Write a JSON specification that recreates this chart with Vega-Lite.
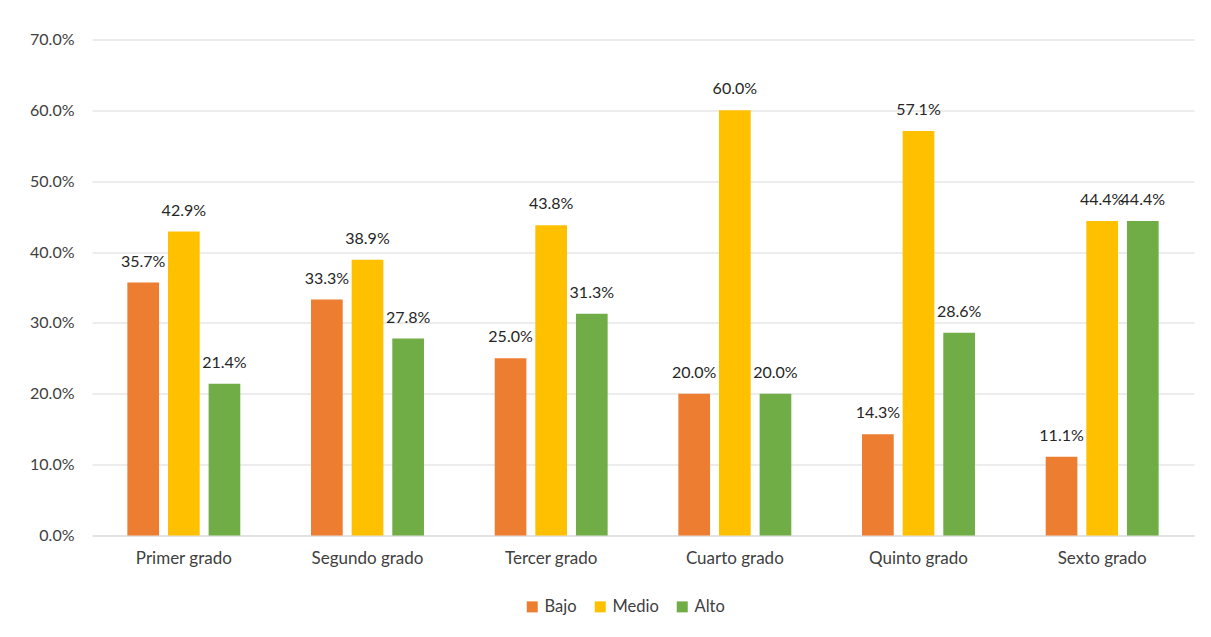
{
  "$schema": "https://vega.github.io/schema/vega-lite/v6.json",
  "width": 1102,
  "height": 496,
  "autosize": {"type": "none"},
  "padding": {"left": 92, "top": 39.5, "right": 17, "bottom": 101.5},
  "background": "white",
  "config": {
    "view": {"stroke": null},
    "font": "Lato",
    "axis": {"labelFont": "Lato", "labelColor": "#404040", "labelFontSize": 16, "labelOverlap": false}
  },
  "data": {
    "values": [
      {"grado": "Primer grado", "nivel": "Bajo", "valor": 0.357},
      {"grado": "Primer grado", "nivel": "Medio", "valor": 0.429},
      {"grado": "Primer grado", "nivel": "Alto", "valor": 0.214},
      {"grado": "Segundo grado", "nivel": "Bajo", "valor": 0.333},
      {"grado": "Segundo grado", "nivel": "Medio", "valor": 0.389},
      {"grado": "Segundo grado", "nivel": "Alto", "valor": 0.278},
      {"grado": "Tercer grado", "nivel": "Bajo", "valor": 0.25},
      {"grado": "Tercer grado", "nivel": "Medio", "valor": 0.438},
      {"grado": "Tercer grado", "nivel": "Alto", "valor": 0.313},
      {"grado": "Cuarto grado", "nivel": "Bajo", "valor": 0.2},
      {"grado": "Cuarto grado", "nivel": "Medio", "valor": 0.6},
      {"grado": "Cuarto grado", "nivel": "Alto", "valor": 0.2},
      {"grado": "Quinto grado", "nivel": "Bajo", "valor": 0.143},
      {"grado": "Quinto grado", "nivel": "Medio", "valor": 0.571},
      {"grado": "Quinto grado", "nivel": "Alto", "valor": 0.286},
      {"grado": "Sexto grado", "nivel": "Bajo", "valor": 0.111},
      {"grado": "Sexto grado", "nivel": "Medio", "valor": 0.444},
      {"grado": "Sexto grado", "nivel": "Alto", "valor": 0.444}
    ]
  },
  "encoding": {
    "x": {
      "field": "grado", "type": "nominal", "sort": null,
      "scale": {"paddingInner": 0.385, "paddingOuter": 0.1925},
      "axis": {"title": null, "labelAngle": 0, "ticks": false, "domainColor": "#D9D9D9", "domainWidth": 1, "labelPadding": 15, "labelFontSize": 17, "labelColor": "#404040"}
    },
    "xOffset": {
      "field": "nivel", "type": "nominal", "sort": ["Bajo", "Medio", "Alto"],
      "scale": {"paddingInner": 0.22, "paddingOuter": 0}
    },
    "y": {
      "field": "valor", "type": "quantitative",
      "scale": {"domain": [0, 0.7], "nice": false},
      "axis": {"title": null, "format": ".1%", "values": [0, 0.1, 0.2, 0.3, 0.4, 0.5, 0.6, 0.7], "domain": false, "ticks": false, "gridColor": "#D9D9D9", "gridWidth": 1, "labelPadding": 18, "labelFontSize": 16, "labelColor": "#404040"}
    }
  },
  "layer": [
    {
      "mark": {"type": "bar"},
      "encoding": {
        "color": {
          "field": "nivel", "type": "nominal", "sort": ["Bajo", "Medio", "Alto"],
          "scale": {"domain": ["Bajo", "Medio", "Alto"], "range": ["#ED7D31", "#FFC000", "#70AD47"]},
          "legend": {
            "title": null, "orient": "none", "direction": "horizontal",
            "legendX": 432, "legendY": 559,
            "symbolType": "square", "symbolSize": 121, "symbolStrokeWidth": 0,
            "labelFont": "Lato", "labelFontSize": 16.5, "labelColor": "#404040",
            "columnPadding": 15, "labelOffset": 4
          }
        }
      }
    },
    {
      "mark": {"type": "text", "baseline": "alphabetic", "dy": -16, "fontSize": 16, "font": "Lato", "color": "#262626"},
      "encoding": {
        "text": {"field": "valor", "type": "quantitative", "format": ".1%"}
      }
    }
  ]
}
